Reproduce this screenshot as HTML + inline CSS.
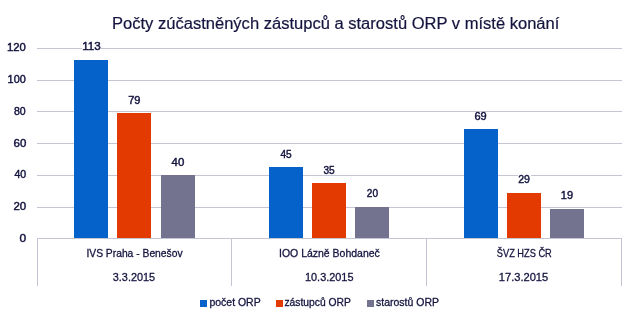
<!DOCTYPE html>
<html><head><meta charset="utf-8"><style>
html,body{margin:0;padding:0;background:#fff;width:635px;height:322px;overflow:hidden}
svg{display:block;will-change:transform}
text{font-family:"Liberation Sans", sans-serif;fill:#14143f;stroke:#14143f;stroke-width:0.45px}
.l{font-size:11px}
.t{font-size:16px;stroke-width:0.2px}
.s{stroke-width:0.3px}
</style></head><body>
<svg width="635" height="322" viewBox="0 0 635 322">
<rect x="37" y="207" width="585" height="1" fill="#c5c5d3"/>
<rect x="37" y="175" width="585" height="1" fill="#c5c5d3"/>
<rect x="37" y="143" width="585" height="1" fill="#c5c5d3"/>
<rect x="37" y="111" width="585" height="1" fill="#c5c5d3"/>
<rect x="37" y="80" width="585" height="1" fill="#c5c5d3"/>
<rect x="37" y="48" width="585" height="1" fill="#c5c5d3"/>
<rect x="37" y="238" width="585" height="1" fill="#c5c5d3"/>
<rect x="37" y="238" width="1" height="48" fill="#c5c5d3"/>
<rect x="231" y="238" width="1" height="48" fill="#c5c5d3"/>
<rect x="426" y="238" width="1" height="48" fill="#c5c5d3"/>
<rect x="621" y="238" width="1" height="48" fill="#c5c5d3"/>
<rect x="74" y="60" width="34" height="178" fill="#0562ca"/>
<rect x="117" y="113" width="34" height="125" fill="#e23a00"/>
<rect x="161" y="175" width="34" height="63" fill="#737390"/>
<rect x="269" y="167" width="34" height="71" fill="#0562ca"/>
<rect x="312" y="183" width="34" height="55" fill="#e23a00"/>
<rect x="355" y="207" width="34" height="31" fill="#737390"/>
<rect x="464" y="129" width="34" height="109" fill="#0562ca"/>
<rect x="507" y="193" width="34" height="45" fill="#e23a00"/>
<rect x="550" y="209" width="34" height="29" fill="#737390"/>
<rect x="200" y="300" width="7" height="7" fill="#0562ca"/>
<rect x="276" y="300" width="7" height="7" fill="#e23a00"/>
<rect x="367" y="300" width="7" height="7" fill="#737390"/>
<rect x="82" y="42" width="19" height="8" fill="#fff"/>
<rect x="128" y="96" width="13" height="8" fill="#fff"/>
<rect x="171" y="158" width="13" height="8" fill="#fff"/>
<rect x="279" y="150" width="13" height="8" fill="#fff"/>
<rect x="323" y="166" width="12" height="8" fill="#fff"/>
<rect x="366" y="189" width="13" height="8" fill="#fff"/>
<rect x="474" y="112" width="13" height="8" fill="#fff"/>
<rect x="518" y="175" width="13" height="8" fill="#fff"/>
<rect x="561" y="191" width="13" height="8" fill="#fff"/>
<text id="title" x="112.00" y="29" textLength="447.36" lengthAdjust="spacingAndGlyphs" class="t">Počty zúčastněných zástupců a starostů ORP v místě konání</text>
<text id="y0" x="19.40" y="242" textLength="6.63" lengthAdjust="spacingAndGlyphs" class="l">0</text>
<text id="y20" x="13.40" y="210" textLength="12.75" lengthAdjust="spacingAndGlyphs" class="l">20</text>
<text id="y40" x="14.40" y="178" textLength="11.75" lengthAdjust="spacingAndGlyphs" class="l">40</text>
<text id="y60" x="13.60" y="147" textLength="12.75" lengthAdjust="spacingAndGlyphs" class="l">60</text>
<text id="y80" x="14.00" y="115" textLength="11.75" lengthAdjust="spacingAndGlyphs" class="l">80</text>
<text id="y100" x="7.60" y="83" textLength="18.11" lengthAdjust="spacingAndGlyphs" class="l">100</text>
<text id="y120" x="7.00" y="51" textLength="18.86" lengthAdjust="spacingAndGlyphs" class="l">120</text>
<text id="d0" x="82.20" y="50" textLength="18.55" lengthAdjust="spacingAndGlyphs" class="l">113</text>
<text id="d1" x="128.20" y="104" textLength="12.25" lengthAdjust="spacingAndGlyphs" class="l">79</text>
<text id="d2" x="171.60" y="166" textLength="12.75" lengthAdjust="spacingAndGlyphs" class="l">40</text>
<text id="d3" x="280.40" y="158" textLength="11.25" lengthAdjust="spacingAndGlyphs" class="l">45</text>
<text id="d4" x="323.40" y="174" textLength="11.25" lengthAdjust="spacingAndGlyphs" class="l">35</text>
<text id="d5" x="366.80" y="197" textLength="11.25" lengthAdjust="spacingAndGlyphs" class="l">20</text>
<text id="d6" x="474.40" y="120" textLength="12.25" lengthAdjust="spacingAndGlyphs" class="l">69</text>
<text id="d7" x="518.20" y="183" textLength="11.75" lengthAdjust="spacingAndGlyphs" class="l">29</text>
<text id="d8" x="560.80" y="199" textLength="12.25" lengthAdjust="spacingAndGlyphs" class="l">19</text>
<text id="n0" x="86.40" y="257" textLength="96.22" lengthAdjust="spacingAndGlyphs" class="l s">IVS Praha - Benešov</text>
<text id="n1" x="279.00" y="257" textLength="100.79" lengthAdjust="spacingAndGlyphs" class="l s">IOO Lázně Bohdaneč</text>
<text id="n2" x="496.80" y="257" textLength="54.95" lengthAdjust="spacingAndGlyphs" class="l s">ŠVZ HZS ČR</text>
<text id="t0" x="112.80" y="281" textLength="42.33" lengthAdjust="spacingAndGlyphs" class="l s">3.3.2015</text>
<text id="t1" x="305.00" y="281" textLength="48.44" lengthAdjust="spacingAndGlyphs" class="l s">10.3.2015</text>
<text id="t2" x="498.80" y="281" textLength="49.44" lengthAdjust="spacingAndGlyphs" class="l s">17.3.2015</text>
<text id="g0" x="209.40" y="306" textLength="51.31" lengthAdjust="spacingAndGlyphs" class="l s">počet ORP</text>
<text id="g1" x="284.40" y="306" textLength="66.42" lengthAdjust="spacingAndGlyphs" class="l s">zástupců ORP</text>
<text id="g2" x="376.00" y="306" textLength="63.03" lengthAdjust="spacingAndGlyphs" class="l s">starostů ORP</text>
</svg>
</body></html>
